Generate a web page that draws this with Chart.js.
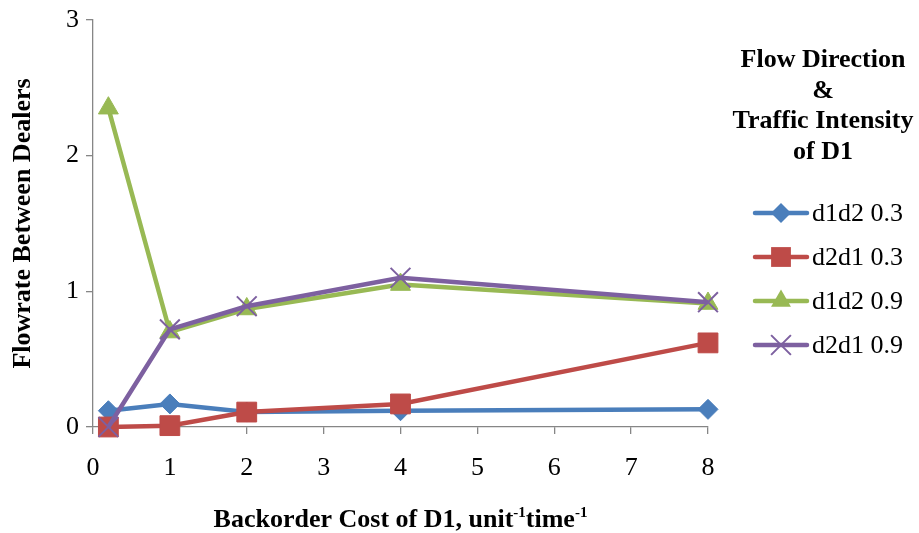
<!DOCTYPE html>
<html>
<head>
<meta charset="utf-8">
<title>Flowrate Between Dealers</title>
<script src="https://cdn.jsdelivr.net/npm/chart.js@4/dist/chart.umd.min.js"></script>
<style>
  html, body { margin: 0; padding: 0; background: #ffffff; }
  #wrap { width: 919px; height: 533px; }
</style>
</head>
<body>
<div id="wrap"><canvas id="chart" width="919" height="533"></canvas></div>
<script>
// Backorder cost of D1 (x values)
const costs = [0.2, 1, 2, 4, 8];

// Flowrate between dealers, per flow direction and traffic intensity of D1
const d1d2_03 = [0.12, 0.17, 0.11, 0.12, 0.13];
const d2d1_03 = [0.00, 0.01, 0.11, 0.17, 0.62];
const d1d2_09 = [2.35, 0.70, 0.87, 1.05, 0.91];
const d2d1_09 = [0.00, 0.72, 0.89, 1.10, 0.92];

const seriesNames = ['d1d2 0.3', 'd2d1 0.3', 'd1d2 0.9', 'd2d1 0.9'];
const legendTitle = ['Flow Direction', '&', 'Traffic Intensity', 'of D1'];
const yTitle = 'Flowrate Between Dealers';
const xTitleParts = [['Backorder Cost of D1, unit', false], ['-1', true], ['time', false], ['-1', true]];

const SERIF = '"Liberation Serif", "Times New Roman", serif';
const AXIS_GREY = '#868686';
const FONT_SIZE = 26;

const styles = [
  { color: '#4a7ebb', point: 'rectRot',  radius: 10 },
  { color: '#be4b48', point: 'rect',     radius: 14 },
  { color: '#98b954', point: 'triangle', radius: 11.5 },
  { color: '#7d60a0', point: 'crossRot', radius: 14 }
];

const values = [d1d2_03, d2d1_03, d1d2_09, d2d1_09];

const datasets = values.map((vals, i) => ({
  label: seriesNames[i],
  data: costs.map((c, j) => ({ x: c, y: vals[j] })),
  borderColor: styles[i].color,
  backgroundColor: styles[i].color,
  borderWidth: 4.5,
  pointStyle: styles[i].point,
  pointRadius: styles[i].radius,
  pointHoverRadius: styles[i].radius,
  pointBorderWidth: styles[i].point === 'crossRot' ? 2 : 1,
  pointBorderColor: styles[i].color,
  pointBackgroundColor: styles[i].color,
  tension: 0,
  fill: false,
  clip: false,
  order: values.length - i
}));

// Draws a legend marker shaped like the series' points
function drawMarker(ctx, style, x, y) {
  const r = style.radius;
  ctx.save();
  ctx.fillStyle = style.color;
  ctx.strokeStyle = style.color;
  ctx.beginPath();
  if (style.point === 'rectRot') {
    ctx.moveTo(x, y - r); ctx.lineTo(x + r, y); ctx.lineTo(x, y + r); ctx.lineTo(x - r, y);
    ctx.closePath(); ctx.fill();
  } else if (style.point === 'rect') {
    const s = r * Math.SQRT1_2;
    ctx.rect(x - s, y - s, 2 * s, 2 * s); ctx.fill();
  } else if (style.point === 'triangle') {
    for (let k = 0; k < 3; k++) {
      const a = k * 2 * Math.PI / 3;
      const px = x + Math.sin(a) * r, py = y - Math.cos(a) * r;
      if (k === 0) ctx.moveTo(px, py); else ctx.lineTo(px, py);
    }
    ctx.closePath(); ctx.fill();
  } else if (style.point === 'crossRot') {
    const o = r * Math.SQRT1_2;
    ctx.lineWidth = 2;
    ctx.moveTo(x - o, y - o); ctx.lineTo(x + o, y + o);
    ctx.moveTo(x + o, y - o); ctx.lineTo(x - o, y + o);
    ctx.stroke();
  }
  ctx.restore();
}

// Axis titles and the legend block on the right
const annotations = {
  id: 'annotations',
  afterDraw(chart) {
    const ctx = chart.ctx;
    const area = chart.chartArea;
    ctx.save();
    ctx.fillStyle = '#000000';

    // y-axis title
    ctx.save();
    ctx.translate(23, (area.top + area.bottom) / 2);
    ctx.rotate(-Math.PI / 2);
    ctx.font = 'bold ' + FONT_SIZE + 'px ' + SERIF;
    ctx.textAlign = 'center';
    ctx.textBaseline = 'middle';
    ctx.fillText(yTitle, 0, 0);
    ctx.restore();

    // x-axis title with superscripts
    const baseFont = 'bold ' + FONT_SIZE + 'px ' + SERIF;
    const supFont = 'bold 15px ' + SERIF;
    let total = 0;
    const widths = xTitleParts.map(([t, sup]) => {
      ctx.font = sup ? supFont : baseFont;
      const w = ctx.measureText(t).width;
      total += w;
      return w;
    });
    let x = (area.left + area.right) / 2 - total / 2;
    const baseY = 527;
    ctx.textAlign = 'left';
    ctx.textBaseline = 'alphabetic';
    xTitleParts.forEach(([t, sup], k) => {
      ctx.font = sup ? supFont : baseFont;
      ctx.fillText(t, x, sup ? baseY - 10 : baseY);
      x += widths[k];
    });

    // legend title
    ctx.font = 'bold ' + FONT_SIZE + 'px ' + SERIF;
    ctx.textAlign = 'center';
    ctx.textBaseline = 'middle';
    legendTitle.forEach((line, k) => {
      ctx.fillText(line, 823, 60 + k * 30.8);
    });

    // legend entries
    const rowY = [213, 257, 301, 345];
    ctx.font = FONT_SIZE + 'px ' + SERIF;
    ctx.textAlign = 'left';
    seriesNames.forEach((name, k) => {
      const y = rowY[k];
      ctx.save();
      ctx.strokeStyle = styles[k].color;
      ctx.lineWidth = 4.5;
      ctx.lineCap = 'round';
      ctx.beginPath();
      ctx.moveTo(755, y);
      ctx.lineTo(807, y);
      ctx.stroke();
      ctx.restore();
      drawMarker(ctx, styles[k], 781, y);
      ctx.fillStyle = '#000000';
      ctx.fillText(name, 812, y + 1);
    });
    ctx.restore();
  }
};

new Chart(document.getElementById('chart'), {
  type: 'line',
  data: { datasets },
  options: {
    responsive: false,
    animation: false,
    devicePixelRatio: 1,
    layout: { padding: { left: 0, right: 211, top: 19, bottom: 0 } },
    plugins: {
      legend: { display: false },
      tooltip: { enabled: false }
    },
    scales: {
      x: {
        type: 'linear',
        min: 0,
        max: 8,
        ticks: {
          stepSize: 1,
          color: '#000000',
          font: { family: SERIF, size: FONT_SIZE },
          padding: 19,
          maxRotation: 0
        },
        grid: { display: true, drawOnChartArea: false, drawTicks: true, tickLength: 7, color: AXIS_GREY, lineWidth: 1.3 },
        border: { display: true, color: AXIS_GREY, width: 1.3 },
        title: { display: false },
        afterFit(scale) { scale.height = 106; }
      },
      y: {
        type: 'linear',
        min: 0,
        max: 3,
        ticks: {
          stepSize: 1,
          color: '#000000',
          font: { family: SERIF, size: FONT_SIZE, lineHeight: 1 },
          padding: 7
        },
        grid: { display: true, drawOnChartArea: false, drawTicks: true, tickLength: 7, color: AXIS_GREY, lineWidth: 1.3 },
        border: { display: true, color: AXIS_GREY, width: 1.3 },
        title: { display: false },
        afterFit(scale) { scale.width = 93; }
      }
    }
  },
  plugins: [annotations]
});
</script>
</body>
</html>
